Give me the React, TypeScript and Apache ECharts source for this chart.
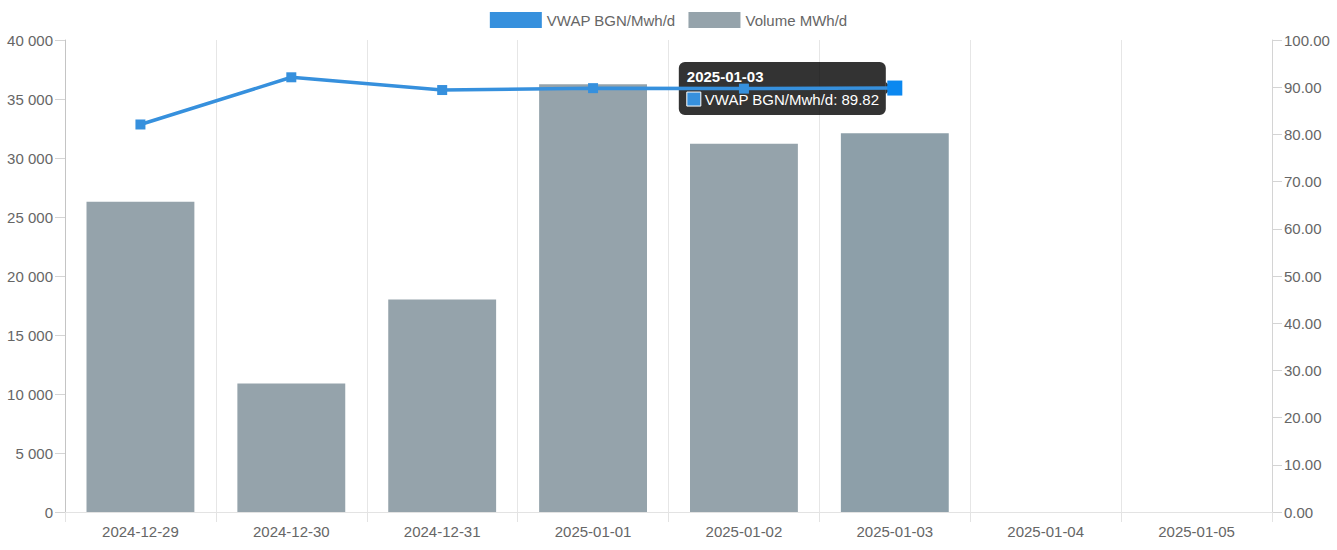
import React, { useEffect, useRef } from "react";
import * as echarts from "echarts";

const categories = [
  "2024-12-29",
  "2024-12-30",
  "2024-12-31",
  "2025-01-01",
  "2025-01-02",
  "2025-01-03",
  "2025-01-04",
  "2025-01-05",
];
const volumeValues = [26300, 10900, 18000, 36250, 31200, 32100];
const vwapValues = [82.1, 92.1, 89.4, 89.8, 89.7, 89.82];
const vwapName = "VWAP BGN/Mwh/d";
const volumeName = "Volume MWh/d";
const hoverIndex = 5;
const leftTicks = { min: 0, max: 40000, interval: 5000 };
const rightTicks = { min: 0, max: 100, interval: 10 };

const FONT = "'Liberation Sans', Arial, Helvetica, sans-serif";
const LABEL = "#666";
const LINE_BLUE = "#3690dd";
const BAR_GRAY = "#95a3ab";

export default function App() {
  const ref = useRef<HTMLDivElement>(null);
  useEffect(() => {
    document.body.style.margin = "0";
    if (!ref.current) return;
    const chart = echarts.init(ref.current, null, { renderer: "svg" });
    const fmtThousands = (v: number) =>
      String(v).replace(/\B(?=(\d{3})+(?!\d))/g, " ");
    chart.setOption({
      animation: false,
      textStyle: { fontFamily: FONT },
      legend: {
        top: 12,
        left: "center",
        padding: 0,
        itemWidth: 52,
        itemHeight: 16,
        itemGap: 13,
        icon: "rect",
        textStyle: { color: LABEL, fontSize: 15, fontFamily: FONT },
        data: [vwapName, volumeName],
      },
      grid: { left: 65, right: 65, top: 40, bottom: 38 },
      xAxis: {
        type: "category",
        data: categories,
        boundaryGap: true,
        axisLine: { show: true, lineStyle: { color: "#e3e3e3" } },
        axisTick: {
          show: true,
          length: 10,
          interval: 0,
          lineStyle: { color: "#e3e3e3" },
        },
        axisLabel: {
          color: LABEL,
          fontSize: 15,
          fontFamily: FONT,
          margin: 12,
          interval: 0,
        },
        splitLine: {
          show: true,
          interval: 0,
          lineStyle: { color: "#e6e6e6" },
        },
      },
      yAxis: [
        {
          type: "value",
          position: "left",
          min: leftTicks.min,
          max: leftTicks.max,
          interval: leftTicks.interval,
          axisLine: { show: true, lineStyle: { color: "#c4c4c4" } },
          axisTick: { show: true, length: 10, lineStyle: { color: "#d4d4d4" } },
          axisLabel: {
            color: LABEL,
            fontSize: 15,
            fontFamily: FONT,
            margin: 12,
            formatter: (v: number) => fmtThousands(v),
          },
          splitLine: { show: false },
        },
        {
          type: "value",
          position: "right",
          min: rightTicks.min,
          max: rightTicks.max,
          interval: rightTicks.interval,
          axisLine: { show: true, lineStyle: { color: "#d4d4d4" } },
          axisTick: { show: true, length: 10, lineStyle: { color: "#d4d4d4" } },
          axisLabel: {
            color: LABEL,
            fontSize: 15,
            fontFamily: FONT,
            margin: 12,
            formatter: (v: number) => v.toFixed(2),
          },
          splitLine: { show: false },
        },
      ],
      series: [
        {
          name: vwapName,
          type: "line",
          yAxisIndex: 1,
          z: 5,
          color: LINE_BLUE,
          itemStyle: { color: LINE_BLUE },
          lineStyle: { color: LINE_BLUE, width: 3.5 },
          symbol: "rect",
          symbolSize: 10,
          showSymbol: true,
          data: vwapValues.map((v, i) =>
            i === hoverIndex
              ? { value: v, symbolSize: 15, itemStyle: { color: "#0b88f0" } }
              : v
          ),
        },
        {
          name: volumeName,
          type: "bar",
          yAxisIndex: 0,
          z: 2,
          color: BAR_GRAY,
          barWidth: "71.5%",
          itemStyle: { color: BAR_GRAY },
          data: volumeValues.map((v, i) =>
            i === hoverIndex ? { value: v, itemStyle: { color: "#8d9fa9" } } : v
          ),
        },
      ],
    });

    const pt = chart.convertToPixel({ seriesIndex: 0 }, [
      hoverIndex,
      vwapValues[hoverIndex],
    ]) as number[];
    if (pt && isFinite(pt[0])) {
      const px = pt[0];
      const py = pt[1];
      const w = 207;
      const h = 53;
      const right = px - 9;
      const left = right - w;
      const top = py - 26;
      const bg = "rgba(0,0,0,0.8)";
      chart.setOption({
        graphic: [
          {
            type: "group",
            z: 100,
            children: [
              {
                type: "rect",
                shape: { x: left, y: top, width: w, height: h, r: 6 },
                style: { fill: bg },
              },
              {
                type: "polygon",
                shape: {
                  points: [
                    [right, py - 6],
                    [right + 6, py],
                    [right, py + 6],
                  ],
                },
                style: { fill: bg },
              },
              {
                type: "text",
                x: left + 8,
                y: py - 11.5,
                style: {
                  text: categories[hoverIndex],
                  fill: "#fff",
                  font: `bold 15px ${FONT}`,
                  verticalAlign: "middle",
                },
              },
              {
                type: "rect",
                shape: { x: left + 8, y: py + 4, width: 14, height: 14 },
                style: { fill: LINE_BLUE, stroke: "#fff", lineWidth: 1 },
              },
              {
                type: "text",
                x: left + 26,
                y: py + 11.5,
                style: {
                  text: `${vwapName}: ${vwapValues[hoverIndex].toFixed(2)}`,
                  fill: "#fff",
                  font: `15px ${FONT}`,
                  verticalAlign: "middle",
                },
              },
            ],
          },
        ],
      });
    }
    return () => chart.dispose();
  }, []);
  return <div ref={ref} style={{ width: 1337, height: 550 }} />;
}
